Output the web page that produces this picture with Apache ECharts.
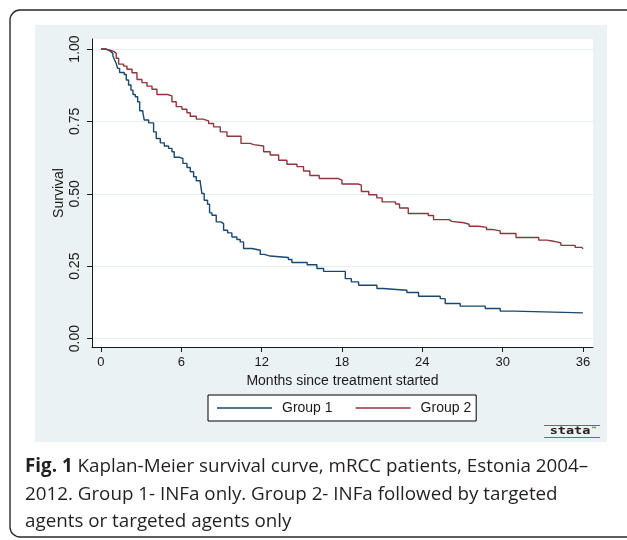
<!DOCTYPE html>
<html>
<head>
<meta charset="utf-8">
<script src="https://cdn.jsdelivr.net/npm/echarts@6/dist/echarts.min.js"></script>
<style>
html, body { margin: 0; padding: 0; background: #fff; }
#chart { width: 627px; height: 540px; }
</style>
</head>
<body>
<div id="chart"></div>
<script>
// tick labels
const monthTicks = [0, 6, 12, 18, 24, 30, 36];
const survivalTicks = [0, 0.25, 0.5, 0.75, 1];

// Kaplan-Meier steps (months, survival after the drop)
const group1Months = [0, 0.32, 0.57, 0.74, 0.89, 1.02, 1.14, 1.24, 1.39, 1.74, 1.89, 2.06, 2.24, 2.39, 2.56, 2.74, 2.89, 3.13, 3.23, 3.56,
    3.93, 4.13, 4.43, 4.73, 5.05, 5.30, 5.47, 5.87, 6.12, 6.42, 6.67, 6.92, 7.12, 7.42, 7.54, 7.71, 7.96, 8.11, 8.29, 8.61,
    8.96, 9.16, 9.46, 9.78, 10.15, 10.4, 10.65, 11.28, 11.9, 12.2, 12.64, 14.0, 14.26, 15.4, 16.13, 16.63, 18.25, 18.7, 19.24, 20.61,
    21.05, 22.85, 23.72, 25.34, 25.71, 26.83, 28.7, 29.82, 30.85, 36.0];
const group1Survival = [1.0, 0.996, 0.991, 0.985, 0.976, 0.962, 0.950, 0.933, 0.919, 0.912, 0.893, 0.876, 0.858, 0.843, 0.835, 0.818, 0.787, 0.780, 0.755, 0.745,
    0.714, 0.691, 0.676, 0.665, 0.657, 0.645, 0.626, 0.622, 0.605, 0.591, 0.576, 0.559, 0.545, 0.538, 0.501, 0.478, 0.464, 0.434, 0.426, 0.403,
    0.397, 0.374, 0.365, 0.351, 0.342, 0.334, 0.311, 0.305, 0.291, 0.285, 0.280, 0.273, 0.263, 0.255, 0.242, 0.232, 0.207, 0.196, 0.184, 0.173,
    0.167, 0.159, 0.146, 0.138, 0.121, 0.112, 0.104, 0.095, 0.089, 0.089];

const group2Months = [0, 0.32, 0.69, 0.99, 1.14, 1.32, 1.69, 1.94, 2.32, 2.69, 3.06, 3.44, 3.81, 4.18, 4.97, 5.30, 5.62, 6.05, 6.42, 6.67,
    7.12, 7.62, 8.04, 8.41, 8.91, 9.41, 10.46, 11.15, 11.4, 12.15, 12.64, 13.27, 13.89, 14.64, 15.13, 15.6, 16.3, 17.7, 18.0, 19.2,
    19.45, 20.0, 20.6, 21.0, 22.0, 22.3, 22.95, 24.45, 24.84, 26.0, 26.2, 27.1, 27.5, 28.2, 28.8, 29.2, 29.82, 31.0, 32.7, 33.3,
    33.7, 34.05, 34.35, 35.42, 35.92, 36.0];
const group2Survival = [1.0, 0.996, 0.991, 0.985, 0.968, 0.948, 0.941, 0.930, 0.918, 0.895, 0.884, 0.872, 0.861, 0.843, 0.838, 0.818, 0.801, 0.792, 0.780, 0.768,
    0.758, 0.752, 0.743, 0.731, 0.714, 0.699, 0.674, 0.670, 0.665, 0.645, 0.634, 0.616, 0.602, 0.594, 0.579, 0.563, 0.553, 0.547, 0.534, 0.530,
    0.508, 0.497, 0.486, 0.472, 0.465, 0.451, 0.432, 0.425, 0.411, 0.405, 0.400, 0.395, 0.388, 0.384, 0.377, 0.372, 0.363, 0.349, 0.340, 0.337,
    0.334, 0.330, 0.322, 0.315, 0.310, 0.309];

const seriesNames = ['Group 1', 'Group 2'];
const captionLines = [
    'Kaplan-Meier survival curve, mRCC patients, Estonia 2004–',
    '2012. Group 1- INFa only. Group 2- INFa followed by targeted',
    'agents or targeted agents only'
];

const navy = '#1a476f';
const maroon = '#90353b';
const panel = '#eaf2f3';
const ink = '#1a1a1a';
const sans = '"Liberation Sans", Arial, sans-serif';
const captionFont = '18.8px "Open Sans", sans-serif';

let pairs = (xs, ys) => xs.map((x, i) => [x, ys[i]]);

let chart = echarts.init(document.getElementById('chart'));

let option = {
    animation: false,
    backgroundColor: '#fff',
    grid: {
        left: 92,
        right: 34,
        top: 39,
        bottom: 193,
        show: true,
        backgroundColor: '#fff',
        borderWidth: 0
    },
    xAxis: {
        type: 'value',
        min: -0.67,
        max: 36.75,
        name: 'Months since treatment started',
        nameLocation: 'middle',
        nameGap: 24,
        nameTextStyle: { fontFamily: sans, fontSize: 14, color: ink },
        axisLine: { show: true, onZero: false, lineStyle: { color: ink, width: 1 } },
        axisTick: { show: true, length: 5, customValues: monthTicks, lineStyle: { color: ink } },
        axisLabel: { customValues: monthTicks, margin: 9, fontFamily: sans, fontSize: 13, color: ink },
        splitLine: { show: false }
    },
    yAxis: {
        type: 'value',
        min: -0.029,
        max: 1.0346,
        name: 'Survival',
        nameLocation: 'middle',
        nameRotate: 90,
        nameGap: 26,
        nameMoveOverlap: false,
        nameTextStyle: { fontFamily: sans, fontSize: 14, color: ink },
        axisLine: { show: true, onZero: false, lineStyle: { color: ink, width: 1 } },
        axisTick: { show: true, length: 5, customValues: survivalTicks, lineStyle: { color: ink } },
        axisLabel: {
            customValues: survivalTicks,
            rotate: 90,
            margin: 10,
            fontFamily: sans,
            fontSize: 14,
            color: ink,
            formatter: v => v.toFixed(2)
        },
        splitLine: { show: true, lineStyle: { color: '#e4edef', width: 1.2 } }
    },
    legend: {
        data: seriesNames,
        left: 208,
        top: 395,
        icon: 'rect',
        backgroundColor: '#fff',
        borderColor: '#000',
        borderWidth: 1,
        padding: [5, 5, 5, 9],
        itemWidth: 55,
        itemHeight: 1.4,
        itemGap: 23,
        textStyle: { fontFamily: sans, fontSize: 14, color: ink, padding: [0, 0, 0, 5], lineHeight: 16 }
    },
    series: [
        {
            name: seriesNames[0],
            type: 'line',
            step: 'end',
            symbol: 'none',
            data: pairs(group1Months, group1Survival),
            lineStyle: { color: navy, width: 1.4 },
            itemStyle: { color: navy }
        },
        {
            name: seriesNames[1],
            type: 'line',
            step: 'end',
            symbol: 'none',
            data: pairs(group2Months, group2Survival),
            lineStyle: { color: maroon, width: 1.4 },
            itemStyle: { color: maroon }
        }
    ],
    graphic: [
        // grey stata plot background
        {
            type: 'rect', z: -10, silent: true,
            shape: { x: 35, y: 25, width: 572, height: 417 },
            style: { fill: panel }
        },
        // rounded frame around figure + caption
        {
            type: 'rect', z: -11, silent: true,
            shape: { x: 10, y: 10, width: 640, height: 527, r: 10 },
            style: { fill: 'none', stroke: '#2a2a2a', lineWidth: 1.4 }
        },
        // stata logo
        {
            type: 'line', silent: true,
            shape: { x1: 544, y1: 425.5, x2: 600, y2: 425.5 },
            style: { stroke: '#c8474a', lineWidth: 1 }
        },
        {
            type: 'line', silent: true,
            shape: { x1: 544, y1: 437.5, x2: 600, y2: 437.5 },
            style: { stroke: '#c8474a', lineWidth: 1 }
        },
        {
            type: 'text', silent: true,
            x: 570, y: 431.5, scaleX: 1.35,
            style: {
                text: 'stata', fill: '#222',
                font: 'bold 10px "DejaVu Sans Mono", monospace',
                align: 'center', verticalAlign: 'middle'
            }
        },
        {
            type: 'text', silent: true,
            x: 594, y: 429,
            style: {
                text: '™', fill: '#222',
                font: 'bold 6px "DejaVu Sans", sans-serif',
                align: 'center', verticalAlign: 'middle'
            }
        },
        // caption
        {
            type: 'text', silent: true,
            x: 25, y: 467,
            style: {
                text: '{b|Fig. 1} ' + captionLines[0],
                font: captionFont,
                fill: '#231f20',
                verticalAlign: 'middle',
                rich: {
                    b: { font: 'bold 18.8px "Open Sans", sans-serif', fill: '#231f20' }
                }
            }
        },
        {
            type: 'text', silent: true,
            x: 25, y: 495,
            style: {
                text: captionLines[1],
                font: captionFont,
                fill: '#231f20',
                verticalAlign: 'middle'
            }
        },
        {
            type: 'text', silent: true,
            x: 25, y: 522,
            style: {
                text: captionLines[2],
                font: captionFont,
                fill: '#231f20',
                verticalAlign: 'middle'
            }
        }
    ]
};

chart.setOption(option);
</script>
</body>
</html>
